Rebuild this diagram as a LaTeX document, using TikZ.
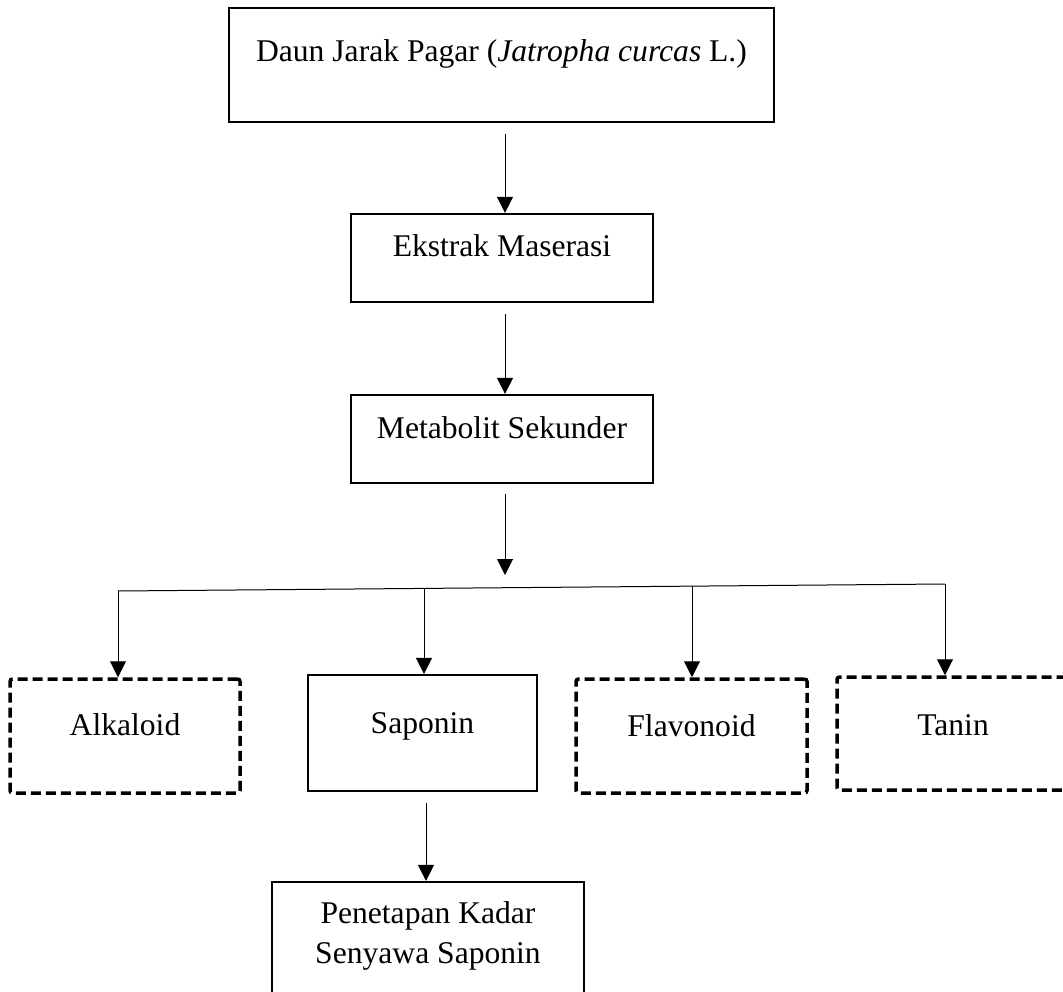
\documentclass[tikz,border=0pt]{standalone}
\usepackage{fontspec}
\setmainfont{Liberation Serif}
\usetikzlibrary{arrows.meta}
\tikzset{
  solidbox/.style={draw, line width=2.2pt, rectangle, inner sep=0pt, font=\fontsize{31.6}{40}\selectfont},
  dashbox/.style={draw, line width=3.5pt, dash pattern=on 10pt off 5pt, rounded corners=2.5pt, rectangle, inner sep=0pt, font=\fontsize{31.6}{40}\selectfont},
  arr/.style={line width=1pt, -{Triangle[width=16pt,length=16pt]}},
  plain/.style={line width=1pt}
}
\begin{document}
\begin{tikzpicture}[x=1pt,y=1pt]
\useasboundingbox (0,0) rectangle (1063,-992);
% main column
\node[solidbox, minimum width=545pt, minimum height=114pt] (top) at (501.5,-65)
  {\raisebox{3pt}[0pt][0pt]{Daun Jarak Pagar (\textit{Jatropha curcas} L.)}};
\node[solidbox, minimum width=302pt, minimum height=88pt] (ekstrak) at (502,-258)
  {\raisebox{1pt}[0pt][0pt]{Ekstrak Maserasi}};
\node[solidbox, minimum width=302pt, minimum height=88pt] (meta) at (502,-439)
  {\raisebox{1pt}[0pt][0pt]{Metabolit Sekunder}};
% second row
\node[dashbox, minimum width=230pt, minimum height=114pt] (alk) at (125,-736)
  {\raisebox{1pt}[0pt][0pt]{Alkaloid}};
\node[solidbox, minimum width=229pt, minimum height=116pt] (sap) at (422.5,-733)
  {\raisebox{0pt}[0pt][0pt]{Saponin}};
\node[dashbox, minimum width=231pt, minimum height=114pt] (flav) at (691.5,-736)
  {\raisebox{0pt}[0pt][0pt]{Flavonoid}};
\node[dashbox, minimum width=232pt, minimum height=113pt] (tan) at (953,-733.5)
  {\raisebox{-1.5pt}[0pt][0pt]{Tanin}};
% bottom
\node[solidbox, minimum width=312pt, minimum height=120pt] (pen) at (428,-942)
  {\raisebox{19pt}[0pt][0pt]{\begin{tabular}[t]{@{}c@{}}Penetapan Kadar\\Senyawa Saponin\end{tabular}}};
% split line
\coordinate (bl) at (118,-591);
\coordinate (br) at (945,-584);
\coordinate (b2) at (424,-588.4);
\coordinate (b3) at (692,-586.1);
\coordinate (hub) at (505,-588);
% connectors
\draw[arr, shorten <=11pt] (top.south -| 505,0) -- (ekstrak.north -| 505,0);
\draw[arr, shorten <=11pt] (ekstrak.south -| 505,0) -- (meta.north -| 505,0);
\draw[arr, shorten <=10pt, shorten >=13pt] (meta.south -| 505,0) -- (hub);
\draw[plain] (bl) -- (br);
\draw[arr] (bl) -- (bl |- alk.north);
\draw[arr] (b2) -- (b2 |- sap.north);
\draw[arr] (b3) -- (b3 |- flav.north);
\draw[arr] (br) -- (br |- tan.north);
\draw[arr, shorten <=11pt] (sap.south -| 426,0) -- (pen.north -| 426,0);
\end{tikzpicture}
\end{document}
